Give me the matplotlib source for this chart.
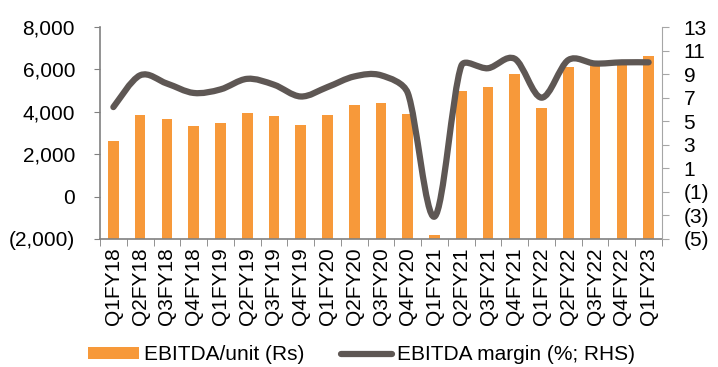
import matplotlib
matplotlib.use("Agg")
import matplotlib.pyplot as plt
from matplotlib.path import Path
from matplotlib.patches import PathPatch, Patch
from matplotlib.lines import Line2D
import matplotlib.ticker as mticker
import numpy as np

# data
quarters = ['Q1FY18', 'Q2FY18', 'Q3FY18', 'Q4FY18', 'Q1FY19', 'Q2FY19', 'Q3FY19',
            'Q4FY19', 'Q1FY20', 'Q2FY20', 'Q3FY20', 'Q4FY20', 'Q1FY21', 'Q2FY21',
            'Q3FY21', 'Q4FY21', 'Q1FY22', 'Q2FY22', 'Q3FY22', 'Q4FY22', 'Q1FY23']
ebitda_unit = [2630, 3830, 3650, 3330, 3470, 3940, 3800, 3400, 3840, 4320, 4420,
               3880, -1800, 4960, 5170, 5790, 4180, 6120, 6250, 6300, 6630]
ebitda_margin = [6.2, 8.9, 8.2, 7.4, 7.7, 8.6, 8.1, 7.1, 7.9, 8.8, 8.9,
                 7.4, -3.1, 9.7, 9.5, 10.3, 7.0, 10.2, 9.9, 10.0, 10.0]

bar_color = '#F7993A'
line_color = '#5E5754'
axis_color = '#808080'

plt.rcParams['font.family'] = ['Liberation Sans', 'DejaVu Sans']
plt.rcParams['font.size'] = 15

fig = plt.figure(figsize=(7.18, 3.67), dpi=100)
ax = fig.add_axes([100 / 718, 1 - 239 / 367, 562 / 718, 212 / 367])
ax2 = ax.twinx()

ax.set_xlim(-0.5, len(quarters) - 0.5)
ax.set_ylim(-2000, 8000)
ax2.set_ylim(-5, 13)

# bars grow from the bottom of the axis, like the horizontal axis crossing at -2000
x = np.arange(len(quarters))
y_min = -2000
ax.bar(x, np.array(ebitda_unit) - y_min, bottom=y_min, width=0.4, color=bar_color, zorder=2)

# smoothed line (excel-like): catmull-rom tangents in pixel space,
# handle length capped against the chord so steep jumps don't overshoot
pts = ax2.transData.transform(np.column_stack([x, ebitda_margin]))
n = len(pts)
tang = [(pts[min(i + 1, n - 1)] - pts[max(i - 1, 0)]) / 6 for i in range(n)]
verts = [tuple(pts[0])]
codes = [Path.MOVETO]
for i in range(n - 1):
    chord = np.hypot(*(pts[i + 1] - pts[i]))
    t1, t2 = tang[i], tang[i + 1]
    l1, l2 = np.hypot(*t1), np.hypot(*t2)
    c1 = pts[i] + t1 * min(1, 0.35 * chord / l1)
    c2 = pts[i + 1] - t2 * min(1, 0.35 * chord / l2)
    verts += [tuple(c1), tuple(c2), tuple(pts[i + 1])]
    codes += [Path.CURVE4] * 3
verts = ax2.transData.inverted().transform(np.array(verts))
ax2.add_patch(PathPatch(Path(verts, codes), facecolor='none', edgecolor=line_color,
                        lw=4.5, capstyle='round', joinstyle='round', zorder=3))

ax.set_yticks(np.arange(-2000, 8001, 2000))
ax.yaxis.set_major_formatter(mticker.FuncFormatter(
    lambda v, p: f'({abs(v):,.0f})' if v < 0 else f'{v:,.0f}'))
ax2.set_yticks(np.arange(-5, 14, 2))
ax2.yaxis.set_major_formatter(mticker.FuncFormatter(
    lambda v, p: f'({abs(v):.0f})' if v < 0 else f'{v:.0f}'))

ax.set_xticks(x)
ax.set_xticklabels(quarters, rotation=90)
ax.tick_params(axis='x', length=0, pad=6)
ax.set_xticks(np.arange(-0.5, len(quarters), 1), minor=True)
ax.tick_params(axis='x', which='minor', length=5, direction='out', color=axis_color)
ax.tick_params(axis='y', length=4, color=axis_color, pad=14)
ax2.tick_params(axis='y', length=5, color='#A6A6A6', pad=10.5)

for a in (ax, ax2):
    a.spines['top'].set_visible(False)
ax.spines['right'].set_visible(False)
ax2.spines['left'].set_visible(False)
ax2.spines['bottom'].set_visible(False)
ax.spines['left'].set_color(axis_color)
ax.spines['bottom'].set_color(axis_color)
ax2.spines['right'].set_color('#A6A6A6')
ax.spines['left'].set_linewidth(1.2)
ax.spines['bottom'].set_linewidth(1.2)

handles = [Patch(facecolor=bar_color, edgecolor='none', label='EBITDA/unit (Rs)'),
           Line2D([0], [0], color=line_color, lw=4.5, solid_capstyle='round',
                  label='EBITDA margin (%; RHS)')]
fig.legend(handles=handles, loc='center left', bbox_to_anchor=(88 / 718, 1 - 355 / 367),
           ncol=2, frameon=False, handlelength=2.45, handleheight=0.55,
           handletextpad=0.25, columnspacing=1.75, borderaxespad=0, borderpad=0)

fig.savefig('out.png', dpi=100)
